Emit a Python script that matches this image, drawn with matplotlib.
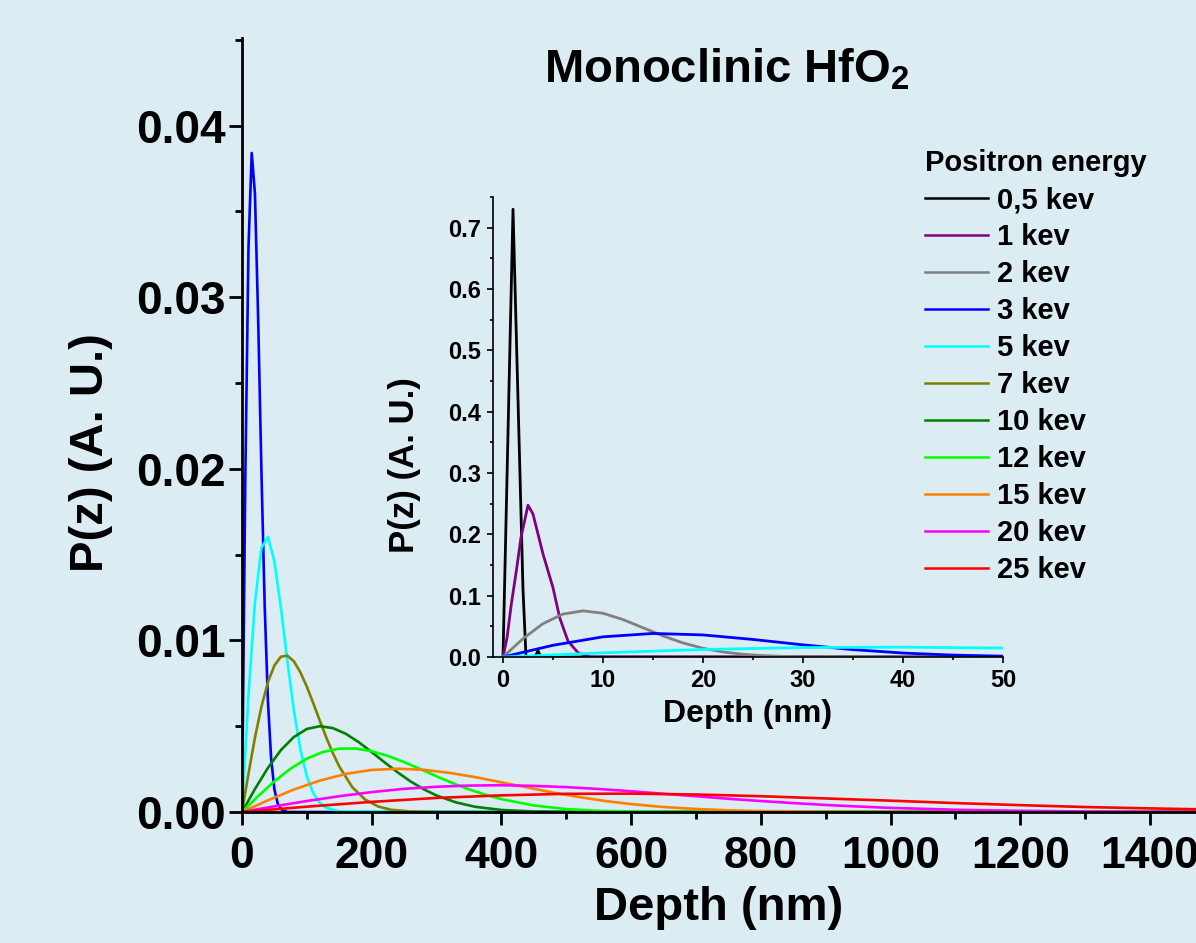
import matplotlib.pyplot as plt
from matplotlib.ticker import MultipleLocator, FormatStrFormatter
from matplotlib.lines import Line2D

# P(z) curves, depth in nm
depth_05 = [0, 1.0, 2.0, 2.3, 3.2, 3.5, 3.8, 50]
p_05 = [0, 0.73, 0.11, 0.0, 0.0, 0.010, 0.0, 0.0]

depth_1 = [0, 0.4, 0.83, 1.33, 1.8, 2.5, 3.0, 4.0, 5.0, 5.67, 6.5, 7.5, 8.7, 50]
p_1 = [0, 0.031, 0.086, 0.14, 0.195, 0.2475, 0.233, 0.168, 0.113, 0.064, 0.026, 0.007, 0.0, 0.0]

depth_2 = [0, 2, 4, 6, 8, 10, 12, 14, 16, 18, 20, 22, 24, 26, 28, 30, 50]
p_2 = [0, 0.0299, 0.0544, 0.0700, 0.0752, 0.0713, 0.0610, 0.0477, 0.0344, 0.0229,
       0.0142, 0.0082, 0.0044, 0.0022, 0.0010, 0.0005, 0.0]

depth_3 = [0, 5, 10, 15, 20, 25, 30, 35, 40, 45, 50, 55, 60, 70, 1500]
p_3 = [0, 0.0191, 0.0329, 0.0384, 0.0360, 0.0286, 0.0198, 0.0120, 0.00645, 0.00308,
       0.00132, 0.0005, 0.00017, 0.0, 0.0]

depth_5 = [0, 10, 20, 30, 40, 50, 60, 70, 80, 90, 100, 110, 120, 130, 150, 1500]
p_5 = [0, 0.0068, 0.01223, 0.01539, 0.01603, 0.0146, 0.0119, 0.00878, 0.00592, 0.00366,
       0.00208, 0.00109, 0.00053, 0.00024, 0.00004, 0.0]

depth_7 = [0, 10, 20, 30, 40, 50, 60, 70, 80, 90, 100, 110, 120, 130, 140, 150, 170,
           190, 210, 230, 260, 300, 1500]
p_7 = [0, 0.00224, 0.00434, 0.00614, 0.00757, 0.00854, 0.00905, 0.00911, 0.00878,
       0.00814, 0.0073, 0.00633, 0.00532, 0.00434, 0.00344, 0.00265, 0.00145, 0.00072,
       0.00032, 0.00013, 0.00003, 0.0, 0.0]

depth_10 = [0, 20, 40, 60, 80, 100, 120, 140, 160, 180, 200, 220, 240, 260, 280, 300,
            330, 360, 400, 450, 500, 1500]
p_10 = [0, 0.00134, 0.00257, 0.00361, 0.00437, 0.00484, 0.0050, 0.00489, 0.00456,
        0.00407, 0.00349, 0.00289, 0.00231, 0.00178, 0.00133, 0.00096, 0.00056, 0.0003,
        0.00012, 0.00003, 0.0, 0.0]

depth_12 = [0, 25, 50, 75, 100, 125, 150, 175, 200, 225, 250, 275, 300, 325, 350, 375,
            400, 450, 500, 550, 600, 700, 1500]
p_12 = [0, 0.00093, 0.00179, 0.00253, 0.00311, 0.0035, 0.00369, 0.0037, 0.00354,
        0.00327, 0.00291, 0.0025, 0.00208, 0.00168, 0.00132, 0.00101, 0.00075, 0.00038,
        0.00017, 0.00007, 0.00003, 0.0, 0.0]

depth_15 = [0, 40, 80, 120, 160, 200, 240, 280, 320, 360, 400, 440, 480, 520, 560, 600,
            650, 700, 750, 800, 900, 1000, 1500]
p_15 = [0, 0.00068, 0.00131, 0.00183, 0.00222, 0.00245, 0.00252, 0.00246, 0.00228,
        0.00203, 0.00173, 0.00143, 0.00113, 0.00087, 0.00064, 0.00046, 0.00029, 0.000175,
        0.0001, 0.000055, 0.000014, 0.0, 0.0]

depth_20 = [0, 50, 100, 150, 200, 250, 300, 350, 400, 450, 500, 550, 600, 650, 700, 750,
            800, 850, 900, 950, 1000, 1100, 1200, 1300, 1400, 1500]
p_20 = [0, 0.00033, 0.00064, 0.00092, 0.00116, 0.00135, 0.00147, 0.00154, 0.00156,
        0.00152, 0.00145, 0.00134, 0.00121, 0.00106, 0.00092, 0.00077, 0.00064, 0.00052,
        0.00041, 0.00032, 0.00024, 0.00013, 0.00007, 0.00003, 0.000014, 0.000006]

depth_25 = [0, 100, 200, 300, 400, 500, 600, 700, 800, 900, 1000, 1100, 1200, 1300,
            1400, 1500]
p_25 = [0, 0.00031, 0.00059, 0.00082, 0.00097, 0.00106, 0.00107, 0.00102, 0.00092,
        0.00079, 0.00066, 0.00052, 0.0004, 0.00029, 0.00021, 0.00014]

labels = ['0,5 kev', '1 kev', '2 kev', '3 kev', '5 kev', '7 kev', '10 kev', '12 kev',
          '15 kev', '20 kev', '25 kev']
colors = ['#000000', '#800080', '#808080', '#0000ff', '#00ffff', '#808000', '#008000',
          '#00ff00', '#ff8000', '#ff00ff', '#ff0000']

curves = [(depth_05, p_05), (depth_1, p_1), (depth_2, p_2), (depth_3, p_3),
          (depth_5, p_5), (depth_7, p_7), (depth_10, p_10), (depth_12, p_12),
          (depth_15, p_15), (depth_20, p_20), (depth_25, p_25)]

bg = '#dbecf2'
plt.rcParams['font.family'] = ['Liberation Sans', 'DejaVu Sans']
plt.rcParams['font.weight'] = 'bold'
plt.rcParams['axes.labelweight'] = 'bold'
plt.rcParams['mathtext.fontset'] = 'custom'
plt.rcParams['mathtext.rm'] = 'Liberation Sans:bold'
plt.rcParams['mathtext.bf'] = 'Liberation Sans:bold'
plt.rcParams['mathtext.default'] = 'bf'

fig = plt.figure(figsize=(11.96, 9.43), dpi=100, facecolor=bg)

# main axes
ax = fig.add_axes([242 / 1196, 1 - 812 / 943, (1196 - 242) / 1196, 774 / 943])
ax.set_facecolor(bg)
for (x, y), c in list(zip(curves, colors))[3:]:
    ax.plot(x, y, color=c, lw=1.9)
ax.set_xlim(0, 1471)
ax.set_ylim(0, 0.0451)
for s in ['top', 'right']:
    ax.spines[s].set_visible(False)
for s in ['left', 'bottom']:
    ax.spines[s].set_linewidth(2)
ax.xaxis.set_major_locator(MultipleLocator(200))
ax.xaxis.set_minor_locator(MultipleLocator(100))
ax.yaxis.set_major_locator(MultipleLocator(0.01))
ax.yaxis.set_minor_locator(MultipleLocator(0.005))
ax.yaxis.set_major_formatter(FormatStrFormatter('%.2f'))
ax.tick_params(which='major', length=9.5, width=2, labelsize=32, pad=8)
ax.tick_params(axis='y', which='major', labelsize=33, pad=2)
ax.tick_params(which='minor', length=5, width=2)
ax.set_xlabel('Depth (nm)', fontsize=34, labelpad=6)
ax.set_ylabel('P(z) (A. U.)', fontsize=34)
ax.yaxis.set_label_coords(-0.135, 0.465)

# inset
ins = fig.add_axes([493 / 1196, 1 - 657 / 943, 510 / 1196, 460 / 943])
ins.patch.set_alpha(0)
for (x, y), c in list(zip(curves, colors))[:5]:
    ins.plot(x, y, color=c, lw=2)
ins.set_xlim(-1, 50)
ins.set_ylim(0, 0.75)
for s in ['top', 'right']:
    ins.spines[s].set_visible(False)
for s in ['left', 'bottom']:
    ins.spines[s].set_linewidth(1.2)
ins.xaxis.set_major_locator(MultipleLocator(10))
ins.xaxis.set_minor_locator(MultipleLocator(5))
ins.yaxis.set_major_locator(MultipleLocator(0.1))
ins.yaxis.set_minor_locator(MultipleLocator(0.05))
ins.yaxis.set_major_formatter(FormatStrFormatter('%.1f'))
ins.tick_params(which='major', length=4.5, width=1.2, labelsize=17, pad=4)
ins.tick_params(which='minor', length=2.5, width=1.2)
ins.set_xlabel('Depth (nm)', fontsize=23, labelpad=5)
ins.set_ylabel('P(z) (A. U.)', fontsize=25)
ins.yaxis.set_label_coords(-0.141, 0.417)

fig.text(0.6075, 1 - 83 / 943, 'Monoclinic HfO$_2$', fontsize=34, ha='center',
         va='baseline')

handles = [Line2D([], [], color=c, lw=1.8) for c in colors]
fig.legend(handles, labels, title='Positron energy', loc='upper left',
           bbox_to_anchor=(925 / 1196, 1 - 149 / 943), frameon=False, alignment='left',
           fontsize=21, title_fontproperties={'weight': 'bold', 'size': 21},
           handlelength=2.16, handletextpad=0.3, labelspacing=0.31, borderpad=0,
           borderaxespad=0)

fig.savefig('out.png', dpi=100, facecolor=bg)
